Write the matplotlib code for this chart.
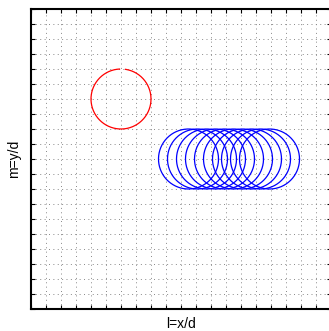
import numpy as np
import matplotlib.pyplot as plt

# circle data (units of l, m)
radius = 0.2
red_center = (-0.4, 0.4)
blue_x = [0.05, 0.11, 0.17, 0.23, 0.29, 0.35, 0.41, 0.47, 0.53, 0.59]
blue_y = [0.0] * len(blue_x)

fig = plt.figure(figsize=(3.29, 3.31), dpi=100)
ax = fig.add_axes([31 / 329, 22 / 331, 300 / 329, 300 / 331])

# red circle with small gap at the top
t = np.linspace(np.pi / 2 + 0.05, np.pi / 2 + 2 * np.pi - 0.15, 200)
ax.plot(red_center[0] + radius * np.cos(t), red_center[1] + radius * np.sin(t),
        color='#ff0000', lw=0.9)

# blue circles
t = np.linspace(0, 2 * np.pi, 200)
for cx, cy in zip(blue_x, blue_y):
    ax.plot(cx + radius * np.cos(t), cy + radius * np.sin(t), color='#0000ff', lw=0.9)

ax.set_xlim(-1, 1)
ax.set_ylim(-1, 1)
ax.set_xticks(np.arange(-1, 1.01, 0.1))
ax.set_yticks(np.arange(-1, 1.01, 0.1))
ax.tick_params(direction='in', length=3, width=0.8, top=True, right=True,
               labelbottom=False, labelleft=False)
ax.grid(True, color='#888888', lw=0.7, linestyle=(0, (1, 3.5)))
for s in ax.spines.values():
    s.set_linewidth(1.5)

ax.set_xlabel('l=x/d', fontname='Liberation Sans', fontsize=10, labelpad=6)
ax.set_ylabel('m=y/d', fontname='Liberation Sans', fontsize=10, labelpad=7)

plt.savefig('out.png', dpi=100)
